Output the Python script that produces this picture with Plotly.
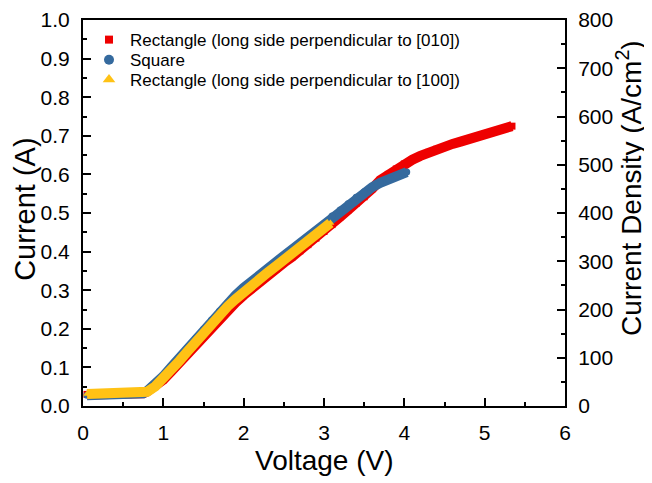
import plotly.graph_objects as go

# Red: Rectangle (long side perpendicular to [010])
red_v = [0.05, 0.1, 0.2, 0.3, 0.4, 0.5, 0.6, 0.7, 0.75, 0.8, 0.9, 1.0, 1.1, 1.2, 1.3, 1.4, 1.5,
         1.6, 1.7, 1.8, 1.9, 2.0, 2.1, 2.2, 2.3, 2.4, 2.5, 2.6, 2.7, 2.8, 2.9, 3.0, 3.1, 3.2,
         3.3, 3.4, 3.5, 3.6, 3.7, 3.8, 3.9, 4.0, 4.1, 4.2, 4.3, 4.4, 4.5, 4.6, 4.7, 4.8, 4.9,
         5.0, 5.1, 5.2, 5.3, 5.34]
red_i = [0.030, 0.030, 0.030, 0.030, 0.030, 0.030, 0.030, 0.031, 0.033, 0.038, 0.052, 0.068,
         0.090, 0.113, 0.137, 0.161, 0.184, 0.206, 0.227, 0.248, 0.268, 0.287, 0.305, 0.322,
         0.339, 0.355, 0.371, 0.386, 0.402, 0.418, 0.435, 0.452, 0.470, 0.490, 0.508, 0.525,
         0.542, 0.563, 0.585, 0.600, 0.614, 0.627, 0.638, 0.648, 0.657, 0.665, 0.672, 0.679,
         0.685, 0.692, 0.698, 0.704, 0.710, 0.716, 0.722, 0.725]

# Blue: Square
blue_v = [0.05, 0.1, 0.2, 0.3, 0.4, 0.5, 0.6, 0.7, 0.75, 0.8, 0.9, 1.0, 1.1, 1.2, 1.3, 1.4, 1.5,
          1.6, 1.7, 1.8, 1.9, 2.0, 2.1, 2.2, 2.3, 2.4, 2.5, 2.6, 2.7, 2.8, 2.9, 3.0, 3.1, 3.2,
          3.3, 3.4, 3.5, 3.6, 3.7, 3.8, 3.9, 4.0, 4.03]
blue_i = [0.028, 0.028, 0.028, 0.028, 0.028, 0.028, 0.029, 0.030, 0.033, 0.039, 0.056, 0.077,
          0.101, 0.125, 0.150, 0.175, 0.199, 0.223, 0.246, 0.267, 0.287, 0.306, 0.324, 0.341,
          0.357, 0.373, 0.389, 0.405, 0.421, 0.437, 0.454, 0.472, 0.492, 0.508, 0.524, 0.541,
          0.555, 0.567, 0.578, 0.588, 0.596, 0.603, 0.606]

# Yellow: Rectangle (long side perpendicular to [100])
yel_v = [0.05, 0.1, 0.2, 0.3, 0.4, 0.5, 0.6, 0.7, 0.75, 0.8, 0.9, 1.0, 1.1, 1.2, 1.3, 1.4, 1.5,
         1.6, 1.7, 1.8, 1.9, 2.0, 2.1, 2.2, 2.3, 2.4, 2.5, 2.6, 2.7, 2.8, 2.9, 3.0, 3.08]
yel_i = [0.031, 0.031, 0.031, 0.031, 0.031, 0.031, 0.031, 0.031, 0.033, 0.037, 0.051, 0.071,
         0.093, 0.117, 0.141, 0.166, 0.191, 0.215, 0.237, 0.258, 0.277, 0.296, 0.314, 0.330,
         0.346, 0.362, 0.378, 0.393, 0.409, 0.425, 0.441, 0.458, 0.474]

names = ["Rectangle (long side perpendicular to [010])", "Square",
         "Rectangle (long side perpendicular to [100])"]
colors = ["#EE0000", "#356A9E", "#FFC215"]
symbols = ["square", "circle", "triangle-up"]
legend_sizes = [8, 10, 11]

x_title = "Voltage (V)"
y_title = "Current (A)"
y2_title = "Current Density (A/cm<sup>2</sup>)"

FONT = "Liberation Sans, Arial, sans-serif"

fig = go.Figure()
for v, i, c, s in [(red_v, red_i, colors[0], symbols[0]),
                   (blue_v, blue_i, colors[1], symbols[1]),
                   (yel_v, yel_i, colors[2], symbols[2])]:
    fig.add_trace(go.Scatter(x=v, y=i, mode="lines+markers", showlegend=False,
                             line=dict(color=c, width=10),
                             marker=dict(color=c, symbol=s, size=7)))
legend_ids = ["legend", "legend2", "legend3"]
for n, c, s, ms, lid in zip(names, colors, symbols, legend_sizes, legend_ids):
    fig.add_trace(go.Scatter(x=[None], y=[None], mode="markers", name=n, legend=lid,
                             marker=dict(color=c, symbol=s, size=ms)))
# dummy trace for the right axis
fig.add_trace(go.Scatter(x=[None], y=[None], yaxis="y2", showlegend=False, mode="markers"))

axis_common = dict(showgrid=False, zeroline=False, showline=True, linecolor="black",
                   linewidth=2, ticks="inside", ticklen=8, tickwidth=2, tickcolor="black",
                   automargin=False, ticklabelstandoff=7,
                   tickfont=dict(family=FONT, size=21, color="black"))


def leg(y):
    return dict(x=0.0104, y=y, xanchor="left", yanchor="middle", bgcolor="rgba(0,0,0,0)",
                font=dict(family=FONT, size=17, color="black"), itemsizing="trace",
                itemwidth=32, borderwidth=0)


# page has an 8px body margin: figure is sized/offset so the plot lands where the reference has it
fig.update_layout(
    width=644, height=475,
    margin=dict(l=75, r=87, t=12, b=77),
    paper_bgcolor="white", plot_bgcolor="white",
    font=dict(family=FONT, color="black"),
    xaxis=dict(range=[0, 6], dtick=1, mirror=True,
               minor=dict(ticks="inside", ticklen=4, dtick=0.5, tickwidth=2, tickcolor="black"),
               **axis_common),
    yaxis=dict(range=[0, 1.0], dtick=0.1, tickformat=".1f",
               minor=dict(ticks="inside", ticklen=4, dtick=0.05, tickwidth=2, tickcolor="black"),
               **axis_common),
    yaxis2=dict(range=[0, 800], dtick=100, overlaying="y", side="right",
                minor=dict(ticks="inside", ticklen=4, dtick=50, tickwidth=2, tickcolor="black"),
                **axis_common),
    legend=leg(0.948), legend2=leg(0.896), legend3=leg(0.845),
    annotations=[
        dict(text=x_title, xref="paper", yref="paper", x=0.502, y=-0.14, showarrow=False,
             xanchor="center", yanchor="middle", font=dict(family=FONT, size=28, color="black")),
        dict(text=y_title, xref="paper", yref="paper", x=-0.121, y=0.51, showarrow=False,
             textangle=-90, xanchor="center", yanchor="middle",
             font=dict(family=FONT, size=29, color="black")),
        dict(text=y2_title, xref="paper", yref="paper", x=1.133, y=0.565, showarrow=False,
             textangle=-90, xanchor="center", yanchor="middle",
             font=dict(family=FONT, size=28, color="black")),
    ],
)

fig.write_html("out.html")
